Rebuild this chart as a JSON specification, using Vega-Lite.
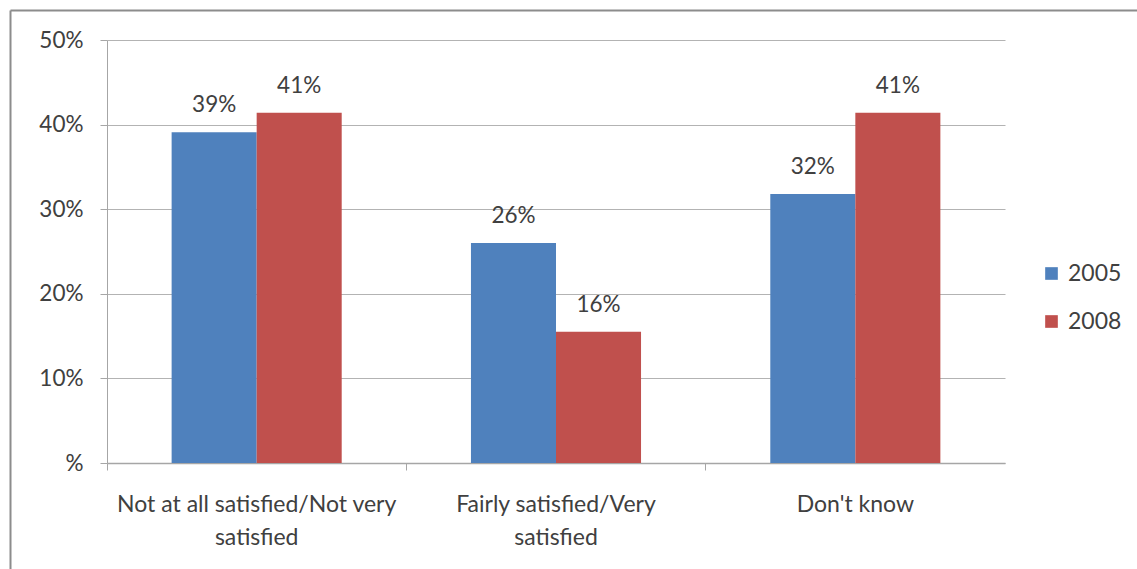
{
  "$schema": "https://vega.github.io/schema/vega-lite/v6.json",
  "autosize": "none",
  "padding": {"left": 10, "top": 10, "right": 0, "bottom": 0},
  "width": 1127,
  "height": 559,
  "background": "white",
  "config": {
    "view": {"stroke": null},
    "font": "Lato",
    "axis": {"labelFont": "Lato", "labelColor": "#404040", "labelFontSize": 22.5}
  },
  "layer": [
    {
      "data": {
        "values": [
          {"category": "Not at all satisfied/Not very satisfied", "year": "2005", "value": 39.1, "label": "39%"},
          {"category": "Not at all satisfied/Not very satisfied", "year": "2008", "value": 41.4, "label": "41%"},
          {"category": "Fairly satisfied/Very satisfied", "year": "2005", "value": 26.0, "label": "26%"},
          {"category": "Fairly satisfied/Very satisfied", "year": "2008", "value": 15.5, "label": "16%"},
          {"category": "Don't know", "year": "2005", "value": 31.8, "label": "32%"},
          {"category": "Don't know", "year": "2008", "value": 41.4, "label": "41%"}
        ]
      },
      "encoding": {
        "x": {
          "field": "category", "type": "nominal", "sort": null,
          "scale": {"range": [97, 995], "paddingInner": 0, "paddingOuter": 0},
          "axis": {
            "title": null, "orient": "bottom", "offset": -106,
            "labelAngle": 0, "bandPosition": 0,
            "domainColor": "#a6a6a6", "domainWidth": 1.5,
            "tickColor": "#a6a6a6", "tickSize": 7, "tickWidth": 1,
            "labelFontSize": 23,
            "labelPadding": 23, "labelLineHeight": 33, "labelBaseline": "top",
            "labelLimit": 500,
            "labelExpr": "datum.label == 'Not at all satisfied/Not very satisfied' ? ['Not at all satisfied/Not very', 'satisfied'] : datum.label == 'Fairly satisfied/Very satisfied' ? ['Fairly satisfied/Very', 'satisfied'] : datum.label",
            "labelFlush": false, "labelOverlap": false,
            "grid": false
          }
        },
        "xOffset": {"field": "year", "type": "nominal", "scale": {"paddingOuter": 0.76, "paddingInner": 0}},
        "y": {
          "field": "value", "type": "quantitative",
          "scale": {"domain": [0, 50], "range": [453, 30], "nice": false, "zero": true},
          "axis": {
            "title": null, "orient": "left", "offset": -97,
            "values": [0, 10, 20, 30, 40, 50],
            "labelExpr": "datum.value == 0 ? '%' : datum.value + '%'",
            "domainColor": "#a6a6a6", "domainWidth": 1,
            "tickColor": "#a6a6a6", "tickSize": 7,
            "grid": true, "gridColor": "#b3b3b3", "gridWidth": 1,
            "labelPadding": 17
          }
        }
      },
      "layer": [
        {
          "mark": {"type": "bar"},
          "encoding": {
            "color": {
              "field": "year", "type": "nominal",
              "scale": {"domain": ["2005", "2008"], "range": ["#4F81BD", "#C0504D"]},
              "legend": {
                "title": null, "orient": "none", "legendX": 1030, "legendY": 252,
                "symbolType": "square", "symbolSize": 160, "symbolStrokeWidth": 0,
                "labelFontSize": 23, "labelColor": "#404040", "labelFont": "Lato",
                "labelOffset": 5, "rowPadding": 24, "padding": 0
              }
            }
          }
        },
        {
          "mark": {"type": "text", "baseline": "bottom", "dy": -15, "fontSize": 22.5, "color": "#404040", "font": "Lato"},
          "encoding": {"text": {"field": "label"}}
        }
      ]
    },
    {
      "data": {"values": [{"f": 0}]},
      "mark": {"type": "point", "opacity": 0},
      "encoding": {
        "x": {
          "field": "f", "type": "quantitative",
          "scale": {"domain": [0, 1], "range": [0, 1127], "nice": false},
          "axis": {"orient": "top", "title": null, "labels": false, "ticks": false, "grid": false, "domainColor": "#8c8c8c", "domainWidth": 2, "offset": 0}
        },
        "y": {
          "field": "f", "type": "quantitative",
          "scale": {"domain": [0, 1], "range": [0, 559], "nice": false},
          "axis": {"orient": "left", "title": null, "labels": false, "ticks": false, "grid": false, "domainColor": "#8c8c8c", "domainWidth": 2, "offset": 0}
        }
      }
    }
  ],
  "resolve": {"scale": {"x": "independent", "y": "independent"}, "axis": {"x": "independent", "y": "independent"}}
}
